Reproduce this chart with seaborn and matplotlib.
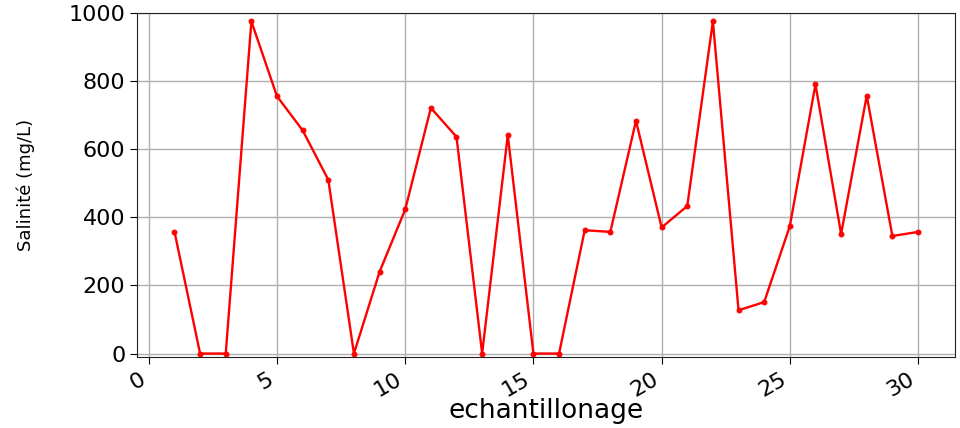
import numpy as np
import pandas as pd
import matplotlib
matplotlib.use("Agg")
import matplotlib.pyplot as plt
import seaborn as sns

# salinity readings per sample
echantillons = list(range(1, 31))
salinite = [358, 0, 0, 975, 755, 655, 510, 0, 240, 423,
            721, 636, 0, 641, 0, 0, 362, 357, 683, 370,
            433, 975, 127, 151, 374, 790, 351, 757, 345, 357]

df = pd.DataFrame({"echantillonage": echantillons, "salinite": salinite})

fig, ax = plt.subplots(figsize=(9.6, 4.28), dpi=100)
fig.subplots_adjust(left=0.143, right=0.995, top=0.97, bottom=0.166)

sns.lineplot(data=df, x="echantillonage", y="salinite", ax=ax,
             color="red", linewidth=1.7, marker="o", markersize=3.5,
             markeredgecolor="red")

ax.set_ylim(-10, 1000)
ax.set_yticks([0, 200, 400, 600, 800, 1000])
ax.set_xticks([0, 5, 10, 15, 20, 25, 30])
ax.grid(True, color="#b0b0b0", linewidth=1)
ax.set_axisbelow(True)

ax.tick_params(axis="both", labelsize=16, length=5)
plt.setp(ax.get_xticklabels(), rotation=30, ha="right", rotation_mode="default")

ax.set_xlabel("echantillonage", fontsize=19, labelpad=0)
ax.xaxis.set_label_coords(0.5, -0.118)
ax.set_ylabel("Salinité (mg/L)", fontsize=13, family=["Liberation Sans Narrow", "DejaVu Sans"])
ax.yaxis.set_label_coords(-0.125, 0.5)

for s in ax.spines.values():
    s.set_color("#222222")

fig.savefig("out.png", dpi=100)
